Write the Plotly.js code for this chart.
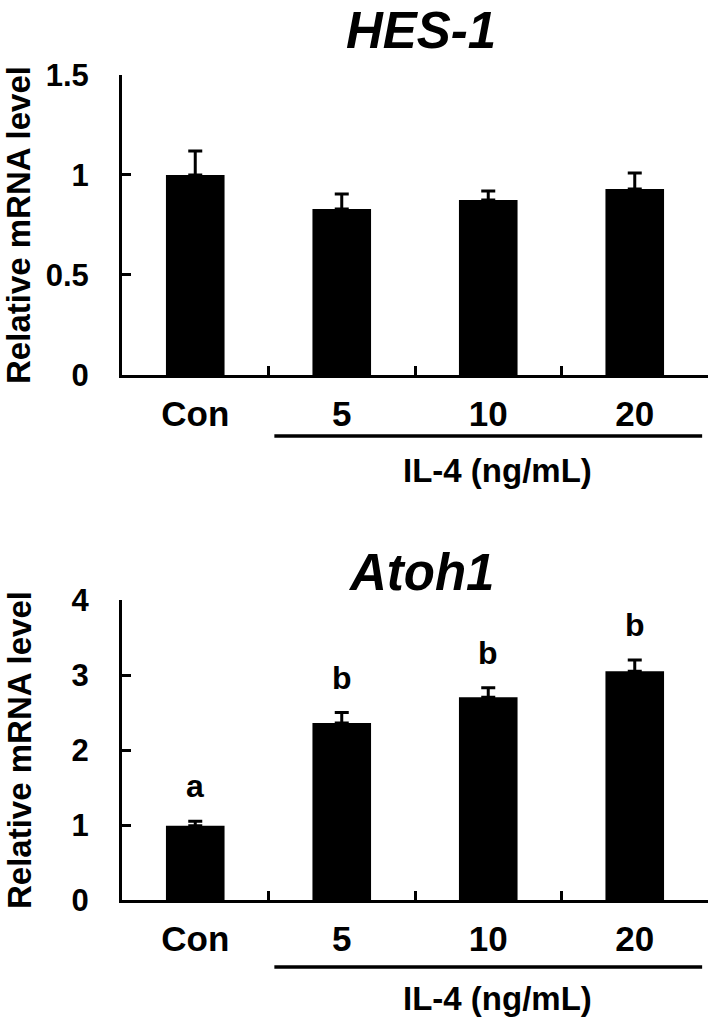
<!DOCTYPE html>
<html>
<head>
<meta charset="utf-8">
<script src="https://cdn.plot.ly/plotly-3.0.1.min.js"></script>
<style>
  html, body { margin: 0; padding: 0; background: #fff; }
  #chart { width: 711px; height: 1024px; }
</style>
</head>
<body>
<div id="chart"></div>
<script>
// ---- data ----
var categories = ['Con', '5', '10', '20'];
var hesMean = [1.00, 0.83, 0.875, 0.93];
var hesErr = [0.12, 0.075, 0.045, 0.08];
var atohMean = [0.99, 2.36, 2.705, 3.05];
var atohErr = [0.06, 0.14, 0.125, 0.15];
var atohLetters = ['a', 'b', 'b', 'b'];
var noErr = [0, 0, 0, 0];
var hesTicks = [0, 0.5, 1, 1.5];
var hesTickText = ['0', '0.5', '1', '1.5'];
var atohTicks = [0, 1, 2, 3, 4];
var atohTickText = ['0', '1', '2', '3', '4'];
var groupLabel = 'IL-4 (ng/mL)';
var yTitle = 'Relative mRNA level';
var titles = ['HES-1', 'Atoh1'];

var FONT = 'Liberation Sans, Arial, Helvetica, sans-serif';

function barTrace(vals, errs, xa, ya) {
  return {
    type: 'bar', x: categories, y: vals, xaxis: xa, yaxis: ya,
    width: 0.4,
    marker: { color: '#000', line: { width: 0 } },
    error_y: { type: 'data', symmetric: false, array: errs, arrayminus: noErr,
               color: '#000', thickness: 3, width: 7 },
    hoverinfo: 'none', showlegend: false
  };
}

var traces = [
  barTrace(hesMean, hesErr, 'x', 'y'),
  barTrace(atohMean, atohErr, 'x2', 'y2')
];

function xAxis(anchor) {
  return {
    anchor: anchor, domain: [0, 1], type: 'category',
    range: [-0.5, 3.5],
    showline: true, linecolor: '#000', linewidth: 3,
    ticks: 'inside', tickson: 'boundaries', ticklen: 9, tickwidth: 3, tickcolor: '#000',
    tickfont: { family: FONT, size: 35, color: '#000', weight: 'bold' },
    ticklabelstandoff: 6,
    showgrid: false, zeroline: false, fixedrange: true
  };
}
function yAxis(anchor, domain, range, tv, tt) {
  return {
    anchor: anchor, domain: domain, range: range,
    tickvals: tv, ticktext: tt,
    showline: true, linecolor: '#000', linewidth: 3,
    ticks: 'inside', ticklen: 9, tickwidth: 3, tickcolor: '#000',
    tickfont: { family: FONT, size: 31, color: '#000', weight: 'bold' },
    ticklabelstandoff: 24,
    showgrid: false, zeroline: false, fixedrange: true
  };
}

var topDomain = [0.6364, 1];
var botDomain = [0, 0.3636];
var yTitleX = -0.1758;

var annotations = [
  { text: '<b><i>' + titles[0] + '</i></b>', xref: 'paper', yref: 'paper', x: 0.51, y: 1.0545, yanchor: 'middle',
    showarrow: false, font: { family: FONT, size: 51, color: '#000' } },
  { text: '<b><i>' + titles[1] + '</i></b>', xref: 'paper', yref: 'paper', x: 0.51, y: 0.397, yanchor: 'middle',
    showarrow: false, font: { family: FONT, size: 51, color: '#000' } },
  { text: '<b>' + groupLabel + '</b>', xref: 'x', yref: 'paper', x: 2.06, y: 0.5212, yanchor: 'middle',
    showarrow: false, font: { family: FONT, size: 33, color: '#000' } },
  { text: '<b>' + groupLabel + '</b>', xref: 'x2', yref: 'paper', x: 2.06, y: -0.1188, yanchor: 'middle',
    showarrow: false, font: { family: FONT, size: 33, color: '#000' } },
  { text: '<b>' + yTitle + '</b>', xref: 'paper', yref: 'paper', x: yTitleX, y: (topDomain[0] + topDomain[1]) / 2,
    textangle: -90, xanchor: 'center', yanchor: 'middle',
    showarrow: false, font: { family: FONT, size: 33, color: '#000' } },
  { text: '<b>' + yTitle + '</b>', xref: 'paper', yref: 'paper', x: yTitleX, y: (botDomain[0] + botDomain[1]) / 2,
    textangle: -90, xanchor: 'center', yanchor: 'middle',
    showarrow: false, font: { family: FONT, size: 33, color: '#000' } }
];
for (var i = 0; i < categories.length; i++) {
  annotations.push({
    text: '<b>' + atohLetters[i] + '</b>', xref: 'x2', yref: 'y2',
    x: i, y: atohMean[i] + atohErr[i], yanchor: 'bottom', yshift: 15,
    showarrow: false, font: { family: FONT, size: 32, color: '#000' }
  });
}

var shapes = [
  { type: 'line', xref: 'x', yref: 'paper', x0: 0.54, x1: 3.46, y0: 0.5624, y1: 0.5624,
    line: { color: '#000', width: 3.5 } },
  { type: 'line', xref: 'x2', yref: 'paper', x0: 0.54, x1: 3.46, y0: -0.0812, y1: -0.0812,
    line: { color: '#000', width: 3.5 } }
];

var layout = {
  width: 711, height: 1024,
  margin: { l: 122, r: 3, t: 75, b: 124, pad: 0 },
  paper_bgcolor: '#fff', plot_bgcolor: '#fff',
  font: { family: FONT, color: '#000' },
  showlegend: false,
  xaxis: xAxis('y'),
  yaxis: yAxis('x', topDomain, [0, 1.5], hesTicks, hesTickText),
  xaxis2: xAxis('y2'),
  yaxis2: yAxis('x2', botDomain, [0, 4], atohTicks, atohTickText),
  annotations: annotations,
  shapes: shapes
};

Plotly.newPlot('chart', traces, layout, { displayModeBar: false, staticPlot: true });
</script>
</body>
</html>
